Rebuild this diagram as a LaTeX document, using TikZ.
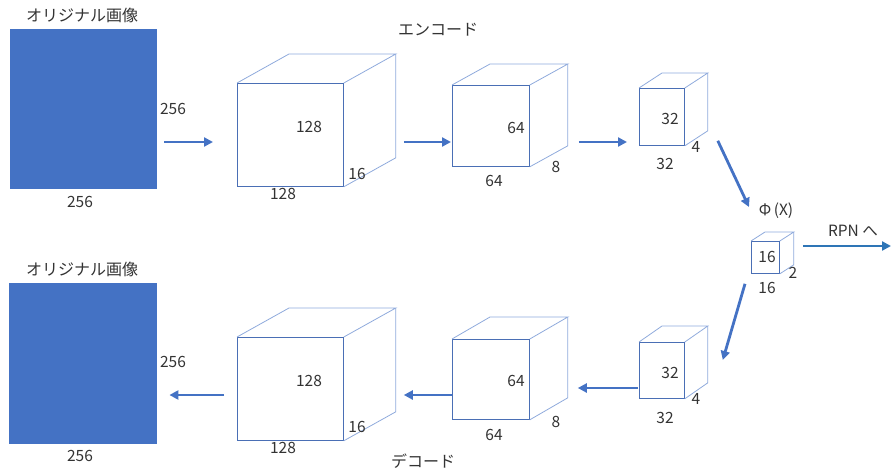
\documentclass[tikz,border=0pt]{standalone}
\usepackage{fontspec}
\setmainfont{Noto Sans CJK JP}
\usetikzlibrary{arrows.meta,calc}
\definecolor{imgblue}{HTML}{4472C4}
\definecolor{frontblue}{HTML}{4A6FB5}
\definecolor{backblue}{HTML}{8FAADC}
\definecolor{rpnblue}{HTML}{2E75B6}
\definecolor{labelgray}{HTML}{333333}

\tikzset{
  front/.style={draw=frontblue, line width=0.8pt, inner sep=0pt},
  backedge/.style={draw=backblue, line width=0.8pt},
  flow/.style={draw=imgblue, line width=2.8pt, -{Triangle[length=9pt,width=9pt]}},
  dimtext/.style={font=\fontsize{15.5}{17}\selectfont, text=labelgray, inner sep=0pt},
  jptext/.style={font=\fontsize{16}{18}\selectfont, text=labelgray, inner sep=0pt},
  photo/.style={fill=imgblue, draw=imgblue, inner sep=0pt, anchor=north west},
}

% feature map: name, x, y, width, height, depth x, depth y
\newcommand{\featcube}[7]{%
  \node[front, anchor=north west, minimum width=#4pt, minimum height=#5pt] (#1) at (#2,#3) {};
  \draw[backedge] (#1.north west) -- ++(#6,#7) -- ($(#1.north east)+(#6,#7)$) -- (#1.north east);
  \draw[backedge] ($(#1.north east)+(#6,#7)$) -- ($(#1.south east)+(#6,#7)$) -- (#1.south east);
}

\begin{document}
\begin{tikzpicture}[x=1pt,y=-1pt]
\useasboundingbox (0,0) rectangle (891,476);

% ===== ENCODER (top row) =====
\node[jptext] (intitle) at (82,15) {オリジナル画像};
\node[photo, minimum width=146pt, minimum height=159pt] (inimg) at (10,29) {};
\node[dimtext] (inh) at (173,109) {256};
\node[dimtext] (inw) at (80,202) {256};

\node[jptext] (enctitle) at (438,30) {エンコード};

\featcube{enc1}{237}{83}{106}{103}{52}{-29}
\node[dimtext] (enc1h) at (309,127) {128};
\node[dimtext] (enc1w) at (283,194) {128};
\node[dimtext] (enc1d) at (357,174) {16};

\featcube{enc2}{452}{85}{77}{81}{38}{-21}
\node[dimtext] (enc2h) at (516,128) {64};
\node[dimtext] (enc2w) at (494,181) {64};
\node[dimtext] (enc2d) at (556,167) {8};

\featcube{enc3}{639}{88}{45}{57}{23}{-15}
\node[dimtext] (enc3h) at (670,119) {32};
\node[dimtext] (enc3w) at (665,164) {32};
\node[dimtext] (enc3d) at (696,147) {4};

% ===== LATENT =====
\featcube{lat}{751}{241}{28}{32}{14}{-9}
\node[dimtext] (lath) at (767,257) {16};
\node[dimtext] (latw) at (767,288) {16};
\node[dimtext] (latd) at (793,273) {2};
\node[dimtext] (phi) at (776,211) {Φ\,(X)};
\node[dimtext] (rpnlabel) at (853,231) {RPN へ};
\coordinate (rpn) at (891,246);

% ===== DECODER (bottom row) =====
\featcube{dec3}{639}{342}{45}{56}{23}{-16}
\node[dimtext] (dec3h) at (670,373) {32};
\node[dimtext] (dec3w) at (665,418) {32};
\node[dimtext] (dec3d) at (696,399) {4};

\featcube{dec2}{452}{339}{77}{80}{38}{-22}
\node[dimtext] (dec2h) at (516,381) {64};
\node[dimtext] (dec2w) at (494,435) {64};
\node[dimtext] (dec2d) at (556,422) {8};

\featcube{dec1}{237}{337}{106}{103}{52}{-29}
\node[dimtext] (dec1h) at (309,381) {128};
\node[dimtext] (dec1w) at (283,448) {128};
\node[dimtext] (dec1d) at (357,427) {16};

\node[jptext] (dectitle) at (423,461) {デコード};

\node[jptext] (outtitle) at (82,269) {オリジナル画像};
\node[photo, minimum width=147pt, minimum height=160pt] (outimg) at (9,283) {};
\node[dimtext] (outh) at (173,362) {256};
\node[dimtext] (outw) at (80,456) {256};

% ===== ARROWS =====
\draw[flow] ($(inimg.east |- 0,142)+(8,0)$) -- ($(enc1.west |- 0,142)+(-24,0)$);
\draw[flow] ($(enc1.east |- 0,142)+(60,0)$) -- ($(enc2.west |- 0,142)+(-1,0)$);
\draw[flow] ($(enc2.east |- 0,142)+(49,0)$) -- ($(enc3.west |- 0,142)+(-12,0)$);
\draw[flow] ($(enc3.south east)+(33,-5)$) -- ($(lat.north west)+(-2,-34)$);
\draw[flow, draw=rpnblue] ($(lat.east |- 0,246)+(23,0)$) -- (rpn);
\draw[flow] ($(lat.south west)+(-6,10)$) -- ($(dec3.north east)+(38,18)$);
\draw[flow] ($(dec3.west |- 0,388)+(-1,0)$) -- ($(dec2.east |- 0,388)+(48,0)$);
\draw[flow] ($(dec2.west |- 0,395)$) -- ($(dec1.east |- 0,395)+(60,0)$);
\draw[flow] ($(dec1.west |- 0,395)+(-13,0)$) -- ($(outimg.east |- 0,395)+(13,0)$);

\end{tikzpicture}
\end{document}
